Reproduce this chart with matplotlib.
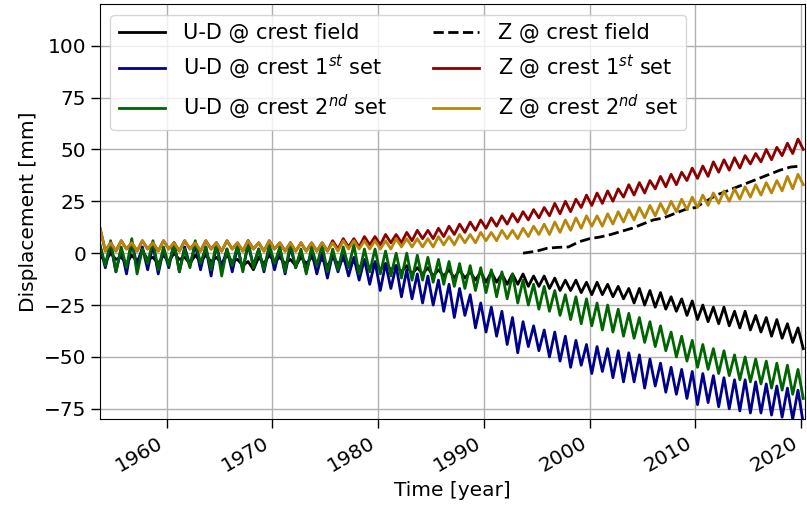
import numpy as np
import matplotlib
matplotlib.use("Agg")
import matplotlib.pyplot as plt

years = np.arange(1954, 2021)

ud_field_hi = [-1, 0, -2, -1, 1, -2, -1, 0, -2, -1,
               -1, -2, -1, -3, -4, -2, -1, -2, -3, -2,
               -2, -3, -2, -3, -4, -4, -5, -5, -6, -6,
               -7, -7, -8, -8, -8, -9, -9, -9, -10, -10,
               -10, -11, -11, -12, -13, -13, -14, -14, -15, -16,
               -17, -17, -18, -19, -21, -22, -23, -25, -26, -26,
               -28, -28, -30, -31, -32, -34, -36]
ud_field_lo = [-4, -3, -5, -4, -3, -5, -4, -3, -5, -4,
               -4, -5, -4, -6, -8, -5, -4, -5, -6, -5,
               -5, -6, -5, -6, -7, -7, -8, -8, -9, -10,
               -10, -11, -11, -12, -12, -13, -14, -14, -15, -15,
               -16, -16, -17, -18, -18, -19, -20, -20, -21, -22,
               -24, -25, -26, -27, -28, -30, -32, -33, -34, -35,
               -36, -37, -38, -40, -41, -43, -46]

ud_1st_hi = [3, 4, 2, 5, 3, 4, 2, 5, 3, 4,
             3, 4, 2, 3, 4, 2, 3, 2, 3, 1,
             1, 0, 0, -1, -2, -3, -4, -5, -6, -8,
             -10, -11, -13, -15, -17, -20, -24, -26, -28, -31,
             -33, -35, -37, -38, -40, -42, -44, -45, -46, -47,
             -48, -49, -51, -53, -55, -56, -57, -58, -59, -60,
             -61, -61, -62, -63, -64, -65, -66]
ud_1st_lo = [-7, -9, -10, -6, -8, -10, -7, -9, -6, -8,
             -11, -7, -9, -8, -6, -9, -8, -10, -7, -9,
             -10, -12, -9, -11, -13, -15, -18, -17, -21, -22,
             -24, -25, -28, -31, -30, -36, -38, -40, -44, -48,
             -45, -47, -50, -52, -55, -54, -58, -57, -60, -62,
             -62, -65, -64, -67, -68, -70, -73, -72, -74, -75,
             -76, -77, -77, -78, -79, -80, -82]

ud_2nd_hi = [4, 6, 3, 7, 2, 6, 3, 5, 2, 6,
             3, 5, 2, 4, 6, 2, 4, 3, 5, 2,
             3, 4, 2, 3, 4, 2, 2, 1, 0, 0,
             -1, -2, -3, -4, -5, -6, -7, -8, -9, -10,
             -13, -15, -16, -18, -20, -21, -22, -24, -25, -27,
             -29, -31, -33, -35, -38, -40, -42, -44, -46, -47,
             -49, -50, -51, -52, -53, -54, -56]
ud_2nd_lo = [-6, -9, -7, -10, -5, -8, -6, -9, -7, -5,
             -8, -11, -6, -9, -7, -8, -5, -9, -7, -10,
             -6, -9, -8, -7, -10, -9, -10, -11, -12, -13,
             -13, -14, -15, -16, -17, -18, -19, -21, -22, -24,
             -25, -27, -28, -30, -32, -34, -35, -37, -38, -40,
             -41, -43, -45, -47, -50, -52, -55, -56, -58, -59,
             -61, -62, -63, -65, -66, -68, -70]

z_1st_hi = [12, 5, 6, 5, 6, 5, 6, 5, 6, 5,
            6, 5, 6, 5, 6, 5, 6, 5, 5, 5,
            5, 5, 6, 7, 7, 8, 8, 9, 9, 10,
            11, 11, 12, 13, 14, 15, 16, 17, 18, 19,
            20, 21, 22, 24, 25, 26, 28, 29, 30, 31,
            33, 34, 35, 37, 38, 39, 41, 42, 44, 45,
            46, 47, 48, 50, 51, 53, 55]
z_1st_lo = [1, 1, 2, 1, 2, 1, 2, 1, 2, 1,
            2, 1, 2, 1, 2, 1, 2, 1, 1, 1,
            1, 1, 2, 3, 3, 4, 4, 5, 5, 6,
            7, 7, 8, 9, 10, 11, 12, 13, 14, 15,
            16, 17, 18, 19, 20, 22, 23, 24, 25, 27,
            28, 29, 31, 32, 33, 35, 36, 37, 39, 40,
            41, 43, 44, 45, 47, 48, 50]

z_2nd_hi = [12, 5, 6, 5, 6, 5, 6, 5, 6, 5,
            6, 5, 6, 5, 6, 5, 6, 5, 5, 5,
            5, 5, 5, 6, 6, 6, 6, 6, 7, 7,
            7, 7, 8, 8, 9, 9, 10, 10, 11, 11,
            12, 13, 14, 15, 16, 17, 18, 18, 19, 20,
            21, 22, 23, 24, 25, 26, 27, 28, 29, 30,
            31, 32, 33, 34, 35, 37, 38]
z_2nd_lo = [1, 1, 2, 1, 2, 1, 2, 1, 2, 1,
            2, 1, 2, 1, 2, 1, 2, 1, 1, 1,
            1, 1, 1, 2, 2, 2, 2, 2, 3, 3,
            3, 3, 4, 4, 5, 5, 6, 6, 7, 7,
            8, 9, 9, 10, 11, 12, 13, 13, 14, 15,
            16, 17, 18, 19, 20, 21, 22, 23, 24, 25,
            26, 27, 28, 29, 30, 31, 33]

z_field_t = [1993.7, 1995, 1996, 1997, 1998, 1999, 2000, 2001, 2002, 2003,
             2004, 2005, 2006, 2007, 2008, 2009, 2010, 2011, 2012, 2013,
             2014, 2015, 2016, 2017, 2018, 2019, 2020]
z_field_v = [0, 1, 2.4, 2.8, 3, 5.5, 7, 7.8, 9, 10.5,
             12, 14, 16, 17, 19, 21, 22, 25, 28, 30,
             32, 34, 36, 38, 40, 41.5, 42]


def zig(hi, lo):
    t = np.column_stack([years - 0.3, years + 0.2]).ravel()
    v = np.column_stack([hi, lo]).ravel()
    return t, v


fig = plt.figure(figsize=(8.07, 5.15), dpi=100)
ax = fig.add_axes([0.124, 0.186, 0.874, 0.806])

lw = 2
t, v = zig(ud_field_hi, ud_field_lo)
ax.plot(t, v, color='black', lw=lw, label='U-D @ crest field')
t, v = zig(ud_1st_hi, ud_1st_lo)
ax.plot(t, v, color='#00008B', lw=lw, label=r'U-D @ crest 1$^{st}$ set')
t, v = zig(ud_2nd_hi, ud_2nd_lo)
ax.plot(t, v, color='#006400', lw=lw, label=r'U-D @ crest 2$^{nd}$ set')
ax.plot(z_field_t, z_field_v, color='black', lw=lw, ls='--', label='Z @ crest field')
t, v = zig(z_1st_hi, z_1st_lo)
ax.plot(t, v, color='#8B0000', lw=lw, label=r'Z @ crest 1$^{st}$ set')
t, v = zig(z_2nd_hi, z_2nd_lo)
ax.plot(t, v, color='#B8860B', lw=lw, label=r'Z @ crest 2$^{nd}$ set')

ax.set_xlim(1953.7, 2020.4)
ax.set_ylim(-80, 120)
ax.set_yticks([-75, -50, -25, 0, 25, 50, 75, 100])
ax.set_xticks([1960, 1970, 1980, 1990, 2000, 2010, 2020])
ax.grid(True, color='#b0b0b0', lw=1)
ax.tick_params(labelsize=14.5, length=6.5, width=1)
for lab in ax.get_xticklabels():
    lab.set_rotation(30)
    lab.set_ha('right')
ax.set_xlabel('Time [year]', fontsize=14.5)
ax.set_ylabel('Displacement [mm]', fontsize=14.5)
ax.legend(loc='upper left', ncol=2, fontsize=15, handlelength=2.2,
          handletextpad=0.9, columnspacing=2.2)

fig.savefig('out.png', dpi=100)
